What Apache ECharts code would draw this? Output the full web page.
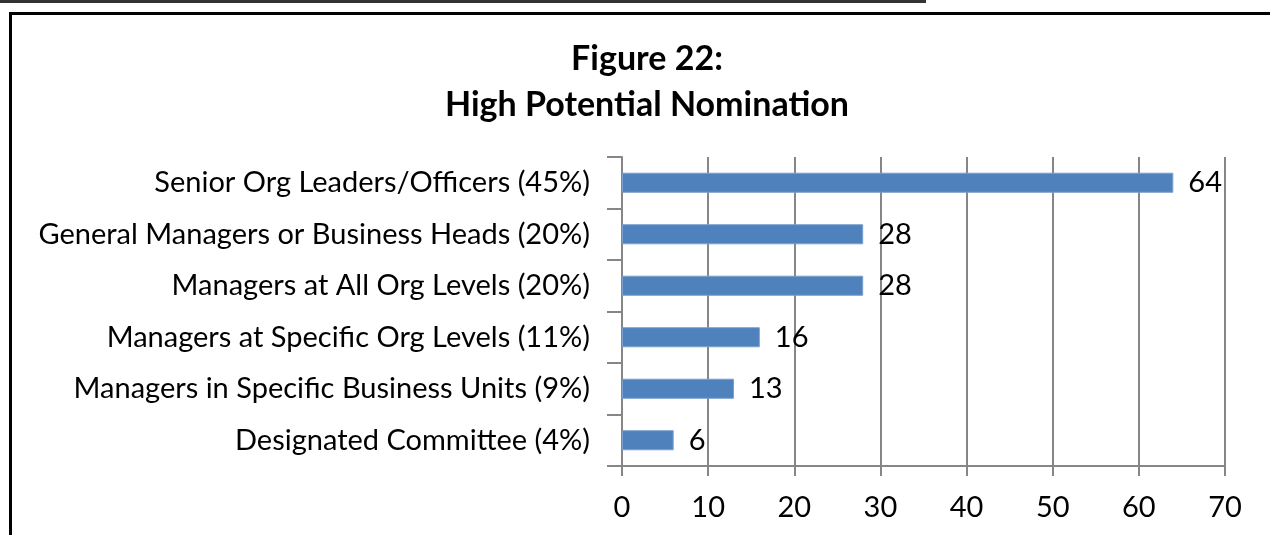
<!DOCTYPE html>
<html>
<head>
<meta charset="utf-8">
<script src="https://cdn.jsdelivr.net/npm/echarts@6/dist/echarts.min.js"></script>
<style>
  html, body { margin: 0; padding: 0; background: #fff; }
  #chart { width: 1270px; height: 535px; }
</style>
</head>
<body>
<div id="chart"></div>
<script>
  // 数据
  var categories = [
    'Senior Org Leaders/Officers (45%)',
    'General Managers or Business Heads (20%)',
    'Managers at All Org Levels (20%)',
    'Managers at Specific Org Levels (11%)',
    'Managers in Specific Business Units (9%)',
    'Designated Committee (4%)'
  ];
  var counts = [64, 28, 28, 16, 13, 6];
  var xTicks = [0, 10, 20, 30, 40, 50, 60, 70];

  var font = 'Lato, "Open Sans", sans-serif';
  var chart = echarts.init(document.getElementById('chart'));
  var option = {
    backgroundColor: '#fff',
    animation: false,
    title: {
      text: 'Figure 22:\nHigh Potential Nomination',
      left: 642,
      top: 31,
      textAlign: 'center',
      textStyle: {
        fontFamily: font,
        fontSize: 34,
        fontWeight: 'bold',
        color: '#000',
        lineHeight: 46
      }
    },
    // 边框线
    graphic: [
      { type: 'rect', shape: { x: 0, y: 0, width: 926, height: 3 }, style: { fill: '#333' } },
      { type: 'rect', shape: { x: 9, y: 12, width: 1261, height: 3 }, style: { fill: '#000' } },
      { type: 'rect', shape: { x: 9, y: 12, width: 3, height: 523 }, style: { fill: '#000' } }
    ],
    grid: {
      left: 622,
      right: 45,
      top: 157,
      bottom: 69,
      containLabel: false
    },
    xAxis: {
      type: 'value',
      min: xTicks[0],
      max: xTicks[xTicks.length - 1],
      interval: 10,
      axisLine: { show: true, lineStyle: { color: '#868686', width: 2 } },
      axisTick: { show: true, length: 10, lineStyle: { color: '#868686', width: 2 } },
      splitLine: { show: true, lineStyle: { color: '#868686', width: 2 } },
      axisLabel: {
        margin: 27,
        fontFamily: font,
        fontSize: 29,
        color: '#000'
      }
    },
    yAxis: {
      type: 'category',
      inverse: true,
      data: categories,
      axisLine: { show: true, lineStyle: { color: '#868686', width: 2 } },
      axisTick: { show: true, length: 15, lineStyle: { color: '#868686', width: 2 } },
      axisLabel: {
        margin: 32,
        fontFamily: font,
        fontSize: 29,
        color: '#000'
      }
    },
    series: [
      {
        type: 'bar',
        data: counts,
        barWidth: '39%',
        itemStyle: { color: '#4F81BD', borderColor: '#7AA0CD', borderWidth: 1 },
        label: {
          show: true,
          position: 'right',
          distance: 15,
          fontFamily: font,
          fontSize: 29,
          color: '#000'
        }
      }
    ]
  };
  chart.setOption(option);
</script>
</body>
</html>
